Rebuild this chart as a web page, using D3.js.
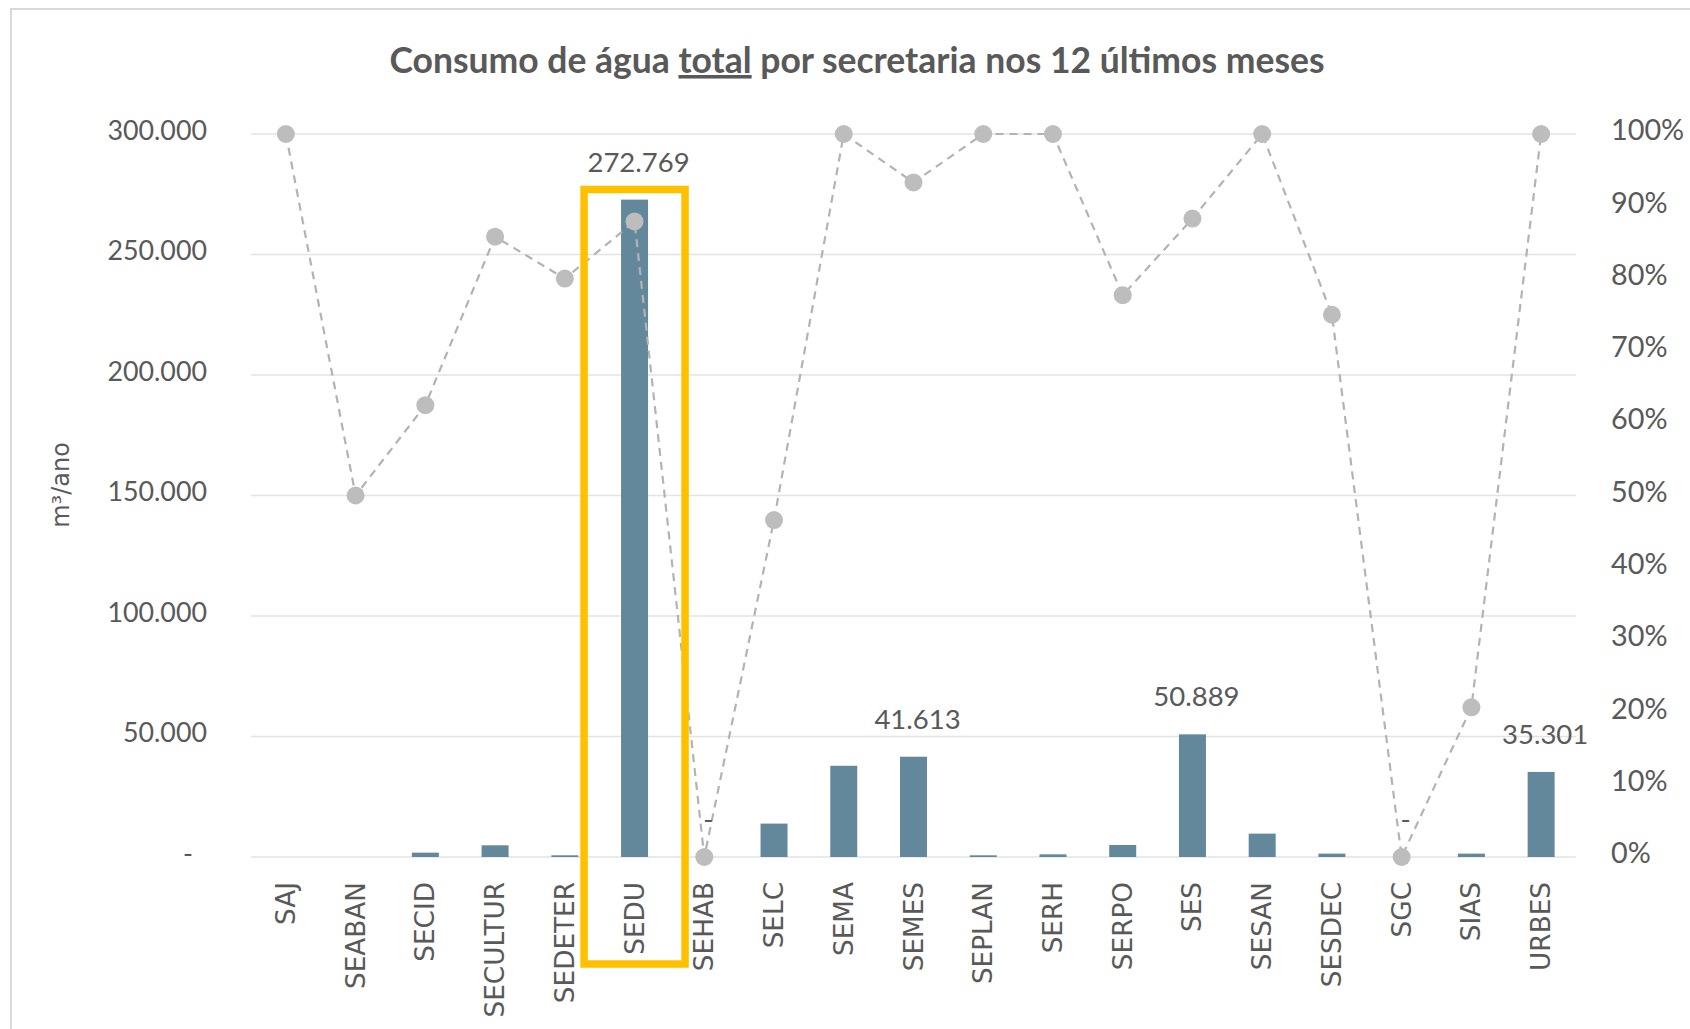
<!DOCTYPE html>
<html>
<head>
<meta charset="utf-8">
<script src="https://cdn.jsdelivr.net/npm/d3@7"></script>
<style>
  html, body { margin: 0; padding: 0; background: #fff; }
  svg { display: block; }
</style>
</head>
<body>
<svg id="chart" width="1690" height="1029"></svg>
<script>
// ---- data ----
const categories = ["SAJ","SEABAN","SECID","SECULTUR","SEDETER","SEDU","SEHAB","SELC","SEMA","SEMES","SEPLAN","SERH","SERPO","SES","SESAN","SESDEC","SGC","SIAS","URBES"];
const consumo = [0, 0, 1800, 4850, 700, 272769, 0, 13860, 37840, 41613, 700, 1100, 5000, 50889, 9700, 1400, 0, 1400, 35301];
const percentual = [1.00, 0.50, 0.625, 0.858, 0.80, 0.879, 0.00, 0.466, 1.00, 0.933, 1.00, 1.00, 0.777, 0.883, 1.00, 0.75, 0.00, 0.207, 1.00];
const labeledCategories = ["SEDU","SEHAB","SEMES","SES","SGC","URBES"];
const highlighted = "SEDU";
const leftTicks = [0, 50000, 100000, 150000, 200000, 250000, 300000];
const rightTicks = [0, 0.1, 0.2, 0.3, 0.4, 0.5, 0.6, 0.7, 0.8, 0.9, 1.0];
const titleParts = ["Consumo de água ", "total", " por secretaria nos 12 últimos meses"];
const yTitle = "m³/ano";

// ---- layout ----
const svg = d3.select("#chart");
const L = 251, R = 1576, T = 134, B = 857;
const textColor = "#595959";
const font = "Lato, 'Open Sans', sans-serif";

const ptBR = d3.formatLocale({decimal: ",", thousands: ".", grouping: [3], currency: ["", ""]});
const fmt = ptBR.format(",.0f");
const fmtNum = v => v === 0 ? "-" : fmt(v);

const x = d3.scaleBand().domain(categories).range([L, R]).paddingInner(0.613).paddingOuter(0.3065);
const yL = d3.scaleLinear().domain([0, 300000]).range([B, T]);
const yR = d3.scaleLinear().domain([0, 1]).range([B, T]);
const cx = c => x(c) + x.bandwidth() / 2;

// outer border
svg.append("rect").attr("x", 11).attr("y", 9).attr("width", 1700).attr("height", 1040)
  .attr("fill", "none").attr("stroke", "#d9d9d9").attr("stroke-width", 2);

// title
const title = svg.append("text").attr("x", 857).attr("y", 73)
  .attr("text-anchor", "middle").attr("fill", textColor)
  .style("font-family", font).style("font-weight", "bold").style("font-size", "35.5px");
titleParts.forEach((t, i) => {
  const ts = title.append("tspan").text(t);
  if (i === 1) ts.style("text-decoration", "underline");
});

// gridlines
svg.append("g").selectAll("line").data(leftTicks).join("line")
  .attr("x1", L).attr("x2", R)
  .attr("y1", d => yL(d)).attr("y2", d => yL(d))
  .attr("stroke", "#e3e3e3").attr("stroke-width", 1.6);

// left axis
const axL = svg.append("g").attr("transform", `translate(${L},0)`)
  .call(d3.axisLeft(yL).tickValues(leftTicks).tickSize(0).tickPadding(44).tickFormat(fmtNum));
axL.select(".domain").remove();
axL.selectAll("text").attr("fill", textColor).style("font-family", font).style("font-size", "26.8px")
  .attr("dy", "0.2em");
axL.selectAll(".tick").filter(d => d === 0).select("text").attr("dx", "-14");

// right axis
const axR = svg.append("g").attr("transform", `translate(${R},0)`)
  .call(d3.axisRight(yR).tickValues(rightTicks).tickSize(0).tickPadding(35).tickFormat(d3.format(".0%")));
axR.select(".domain").remove();
axR.selectAll("text").attr("fill", textColor).style("font-family", font).style("font-size", "28.8px")
  .attr("dy", "0.2em");

// y title
svg.append("text").attr("transform", `translate(61,485) rotate(-90)`)
  .attr("text-anchor", "middle").attr("dominant-baseline", "central")
  .attr("fill", textColor).style("font-family", "'DejaVu Sans', sans-serif").style("font-size", "24px")
  .text(yTitle);

// bars
svg.append("g").selectAll("rect").data(categories).join("rect")
  .attr("x", c => x(c)).attr("width", x.bandwidth())
  .attr("y", (c, i) => yL(consumo[i]))
  .attr("height", (c, i) => B - yL(consumo[i]))
  .attr("fill", "#63879b");

// x labels
svg.append("g").selectAll("text").data(categories).join("text")
  .attr("transform", c => `translate(${cx(c)},882) rotate(-90)`)
  .attr("text-anchor", "end").attr("dominant-baseline", "central")
  .attr("fill", textColor).style("font-family", "'DejaVu Sans', sans-serif").style("font-size", "26.3px")
  .text(c => c);

// line
const line = d3.line().x((d, i) => cx(categories[i])).y(d => yR(d));
svg.append("path").datum(percentual).attr("d", line)
  .attr("fill", "none").attr("stroke", "#b3b3b3").attr("stroke-width", 2.2)
  .attr("stroke-dasharray", "8,6");
svg.append("g").selectAll("circle").data(percentual).join("circle")
  .attr("cx", (d, i) => cx(categories[i])).attr("cy", d => yR(d)).attr("r", 9)
  .attr("fill", "#bdbdbd");

// data labels
svg.append("g").selectAll("text").data(labeledCategories).join("text")
  .attr("x", c => cx(c) + 4)
  .attr("y", c => yL(consumo[categories.indexOf(c)]) - 28)
  .attr("text-anchor", "middle").attr("fill", textColor)
  .style("font-family", font).style("font-size", "27.5px")
  .text(c => fmtNum(consumo[categories.indexOf(c)]));

// highlight box
svg.append("rect")
  .attr("x", cx(highlighted) - 50.5).attr("y", 189.5)
  .attr("width", 101).attr("height", 964 - 189.5)
  .attr("fill", "none").attr("stroke", "#ffc000").attr("stroke-width", 7.5);
</script>
</body>
</html>
